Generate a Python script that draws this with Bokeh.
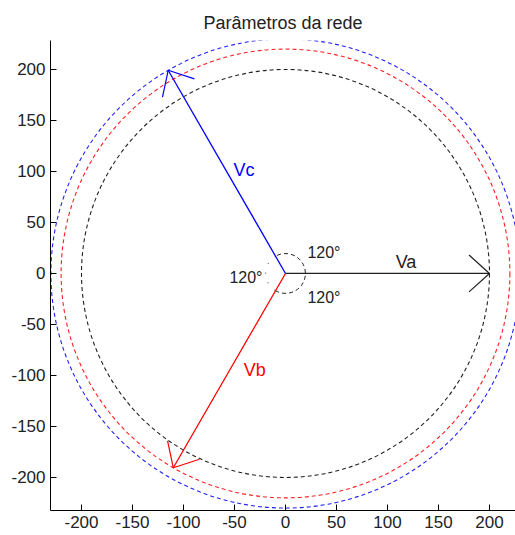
import numpy as np
from bokeh.plotting import figure
from bokeh.models import Range1d, FixedTicker, Label
from bokeh.embed import file_html
from bokeh.resources import INLINE

# ---- data ----
phasor_names = ["Va", "Vb", "Vc"]
phasor_magnitudes = [200, 220, 230]
phasor_angles_deg = [0, -120, 120]
phasor_colors = ["#222222", "#ff0000", "#0000ff"]
circle_radii = [200, 220, 230]
circle_colors = ["#222222", "#ff2020", "#2020ff"]
angle_label_texts = ["120°", "120°", "120°"]
angle_label_x = [21.5, -55, 21.5]
angle_label_y = [20.5, -4, -23.5]
name_label_x = [108, -41, -51]
name_label_y = [11, -95, 101]
x_ticks = [-200, -150, -100, -50, 0, 50, 100, 150, 200]
y_ticks = [-200, -150, -100, -50, 0, 50, 100, 150, 200]

FONT = "Liberation Sans"

p = figure(width=515, height=535, output_backend="svg", toolbar_location=None,
           x_range=Range1d(-230.4, 225.5), y_range=Range1d(-232.4, 228.4),
           min_border_left=50, min_border_right=0, min_border_top=40, min_border_bottom=25,
           background_fill_color="white", border_fill_color="white")
p.outline_line_color = None
p.grid.visible = False

p.title.text = "Parâmetros da rede"
p.title.align = "center"
p.title.text_font = FONT
p.title.text_font_size = "18px"
p.title.text_font_style = "normal"
p.title.text_color = "#222222"
p.title.standoff = 15

for ax, ticks in ((p.xaxis, x_ticks), (p.yaxis, y_ticks)):
    ax.ticker = FixedTicker(ticks=ticks)
    ax.major_label_overrides = {t: str(t) for t in ticks}
    ax.major_tick_in = 6
    ax.major_tick_out = 0
    ax.minor_tick_line_color = None
    ax.axis_line_color = "black"
    ax.major_tick_line_color = "black"
    ax.major_label_text_font = FONT
    ax.major_label_text_font_size = "17px"
    ax.major_label_text_color = "#222222"
    ax.major_label_standoff = 5

# dashed circles
for r, c in zip(circle_radii, circle_colors):
    p.circle(x=0, y=0, radius=r, fill_color=None, line_color=c,
             line_dash="4 3", line_width=1.1)

# angle arcs
p.arc(x=0, y=0, radius=19.5, start_angle=np.deg2rad(-120), end_angle=np.deg2rad(120),
      direction="anticlock", line_color="#222222", line_dash="4 3", line_width=1)
p.arc(x=0, y=0, radius=19.5, start_angle=np.deg2rad(120), end_angle=np.deg2rad(240),
      direction="anticlock", line_color="#222222", line_dash="1 9", line_width=1)

# phasors with open arrow heads
head_len = 27
head_half = np.deg2rad(42)
for name, m, a, c in zip(phasor_names, phasor_magnitudes, phasor_angles_deg, phasor_colors):
    th = np.deg2rad(a)
    tx, ty = m * np.cos(th), m * np.sin(th)
    p.line([0, tx], [0, ty], line_color=c, line_width=1.3)
    back = th + np.pi
    xs = [[tx, tx + head_len * np.cos(back + head_half)],
          [tx, tx + head_len * np.cos(back - head_half)]]
    ys = [[ty, ty + head_len * np.sin(back + head_half)],
          [ty, ty + head_len * np.sin(back - head_half)]]
    p.multi_line(xs, ys, line_color=c, line_width=1.2)

for name, x, y, c in zip(phasor_names, name_label_x, name_label_y, phasor_colors):
    p.add_layout(Label(x=x, y=y, text=name, text_color=c, text_font=FONT,
                       text_font_size="18px", text_baseline="alphabetic", text_align="left"))

for t, x, y in zip(angle_label_texts, angle_label_x, angle_label_y):
    p.add_layout(Label(x=x, y=y, text=t, text_color="#222222", text_font=FONT,
                       text_font_size="16px", text_baseline="alphabetic", text_align="left"))

open("out.html", "w").write(file_html(p, INLINE))
